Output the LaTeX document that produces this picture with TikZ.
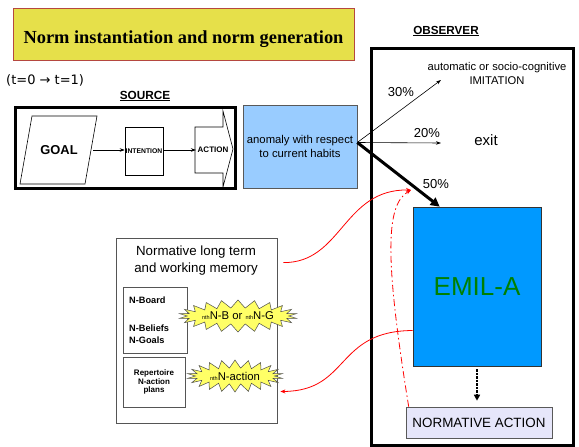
\documentclass[tikz,border=0pt]{standalone}
\usepackage{fontspec}
\setmainfont{Liberation Sans}
\newfontfamily\titlefont{Liberation Serif}
\newfontfamily\dvfont{DejaVu Sans}
\usetikzlibrary{shapes.symbols,arrows.meta,calc}

\definecolor{titlefill}{HTML}{E6E04A}
\definecolor{titleedge}{HTML}{B5483F}
\definecolor{anomfill}{HTML}{99CCFF}
\definecolor{emilfill}{HTML}{0099FF}
\definecolor{emiltext}{HTML}{008000}
\definecolor{normfill}{HTML}{E6E6FA}
\definecolor{burstfill}{HTML}{FFFF66}
\definecolor{frame}{HTML}{555555}

\tikzset{
  fs/.style 2 args={font=\fontsize{#1}{#2}\selectfont},
  fsb/.style 2 args={font=\bfseries\fontsize{#1}{#2}\selectfont},
  plainbox/.style={draw=black, line width=0.6pt, inner sep=0pt},
  heavybox/.style={draw=black, line width=3pt, inner sep=0pt},
  conn/.style={line width=0.6pt, -{Stealth[length=5pt,width=3.5pt]}},
  redconn/.style={red, line width=0.8pt, -{Stealth[length=5pt,width=4pt]}},
  burst/.style={starburst, starburst points=22, starburst point height=8pt,
    random starburst=0, draw=gray!60!black, line width=0.5pt, fill=burstfill,
    inner sep=0pt},
}
\newcommand{\nthmark}{{\fontsize{5.5}{6}\selectfont nth}}

\begin{document}
\begin{tikzpicture}[x=1pt,y=-1pt]
\useasboundingbox (0,0) rectangle (579,447);

% title banner
\node[draw=titleedge, line width=0.8pt, fill=titlefill, minimum width=341pt,
      minimum height=52pt] (title) at (183.5,34) {};
\node (titletext) at (183.5,39)
  {\titlefont\bfseries\fontsize{18.4}{21}\selectfont Norm instantiation and norm generation};

\node[anchor=west, font=\dvfont\fontsize{13}{15}\selectfont, inner sep=0pt] (time) at (6,80) {(t=0 → t=1)};

% source
\node[fsb={11.8}{13}] (srclabel) at (145,96) {\underline{SOURCE}};
\node[heavybox, minimum width=220pt, minimum height=81pt] (source) at (125,147.5) {};

\draw[line width=0.6pt] (32,116) -- (97,116) -- (85,184) -- (20,184) -- cycle;
\node[fsb={12.9}{15}, minimum width=68pt] (goal) at (59,150) {GOAL};

\node[plainbox, minimum width=38pt, minimum height=48pt, fsb={6.8}{8}] (intention) at (144,151) {INTENTION};

\node[anchor=west, inner sep=1.5pt, fsb={8}{9}] (action) at (196,150) {ACTION};
\draw[line width=0.6pt] (195,127) -- (223,127) -- (223,111) -- (233,149)
  -- (223,187) -- (223,173) -- (195,173) -- cycle;

\draw[conn] (goal.east) -- (goal.east -| intention.west);
\draw[conn] (intention.east |- action.west) -- (action.west);

\node[draw=gray!70!black, line width=0.6pt, fill=anomfill, minimum width=114pt,
      minimum height=83pt, align=center, fs={11.3}{14.5}] (anomaly) at (300,146.5)
  {anomaly with respect\\to current habits};

% observer
\node[fsb={11.7}{13}] (obslabel) at (446,31) {\underline{OBSERVER}};
\node[heavybox, minimum width=202pt, minimum height=397pt] (observer) at (472,246.5) {};

\node[align=center, fs={11.2}{14}, inner sep=0pt] (imitation) at (497,73)
  {automatic or socio-cognitive\\IMITATION};
\node[fs={15}{17}, inner sep=0pt] (exit) at (486,140) {exit};

\node[draw=gray!40!black, line width=0.6pt, fill=emilfill, minimum width=128pt,
      minimum height=159pt, text=emiltext, fs={26}{30}] (emil) at (477,286.5) {EMIL-A};
\node[draw=gray!70!black, line width=0.6pt, fill=normfill, minimum width=146pt,
      minimum height=31pt, fs={13.4}{15}] (normact) at (479,422.5) {NORMATIVE ACTION};

\coordinate (fork) at ($(anomaly.east)+(0,-4)$);
\coordinate (imitend) at (441,80);
\coordinate (exitend) at (441,143);
\draw[conn] (fork) -- (imitend);
\node[fs={13}{15}] (p30) at (401,92) {30\%};
\draw[conn] (fork) -- (exitend);
\node[fs={13}{15}] (p20) at (427,133) {20\%};
\draw[line width=3pt, -{Triangle[length=9pt,width=9pt]}] (fork) -- ($(emil.north west)+(27,0)$);
\node[fs={13}{15}] (p50) at (436,184) {50\%};

\draw[line width=2.5pt, densely dotted, -{Triangle[length=6pt,width=6pt]}]
  ($(emil.south)+(0,3)$) -- ($(normact.north)+(-2,-6)$);

% memory
\node[draw=frame, line width=0.8pt, minimum width=161pt, minimum height=185pt] (memory) at (196.5,330.5) {};
\node[align=center, fs={13.3}{17}, inner sep=0pt] (memtitle) at (196,261) {Normative long term\\and working memory};
\node[draw=frame, line width=0.8pt, minimum width=64pt, minimum height=66pt] (board) at (155,320) {};
\node[anchor=west, inner sep=0pt, fsb={9.2}{11}] (nboard) at (129,300) {N-Board};
\node[anchor=west, inner sep=0pt, align=left, fsb={9.2}{12}] (nbel) at (129,334) {N-Beliefs\\N-Goals};
\node[draw=frame, line width=0.8pt, minimum width=62pt, minimum height=50pt, align=center,
      fsb={8}{8.5}] (repert) at (154,382) {Repertoire\\N-action\\plans};

\node[burst, minimum width=99pt, minimum height=32pt, fs={11.3}{13}] (burstA) at (238,316)
  {\nthmark N-B or \nthmark N-G};
\node[burst, minimum width=95pt, minimum height=32pt, fs={11.3}{13}] (burstB) at (235,376)
  {\nthmark N-action};

% red feedback links
\coordinate (meet) at (411,190);
\draw[redconn] ($(memory.north east)+(6,25)$) .. controls (342,263) and (343,189) .. (meet);
\draw[redconn] ($(emil.west)+(0,44)$) .. controls (335,331) and (350,391) .. ($(memory.east)+(3,61)$);
\draw[redconn, dash pattern=on 7pt off 3pt on 1.5pt off 3pt]
  ($(normact.north west)+(3,0)$) .. controls (385,260) and (385,205) .. (meet);
\end{tikzpicture}
\end{document}
